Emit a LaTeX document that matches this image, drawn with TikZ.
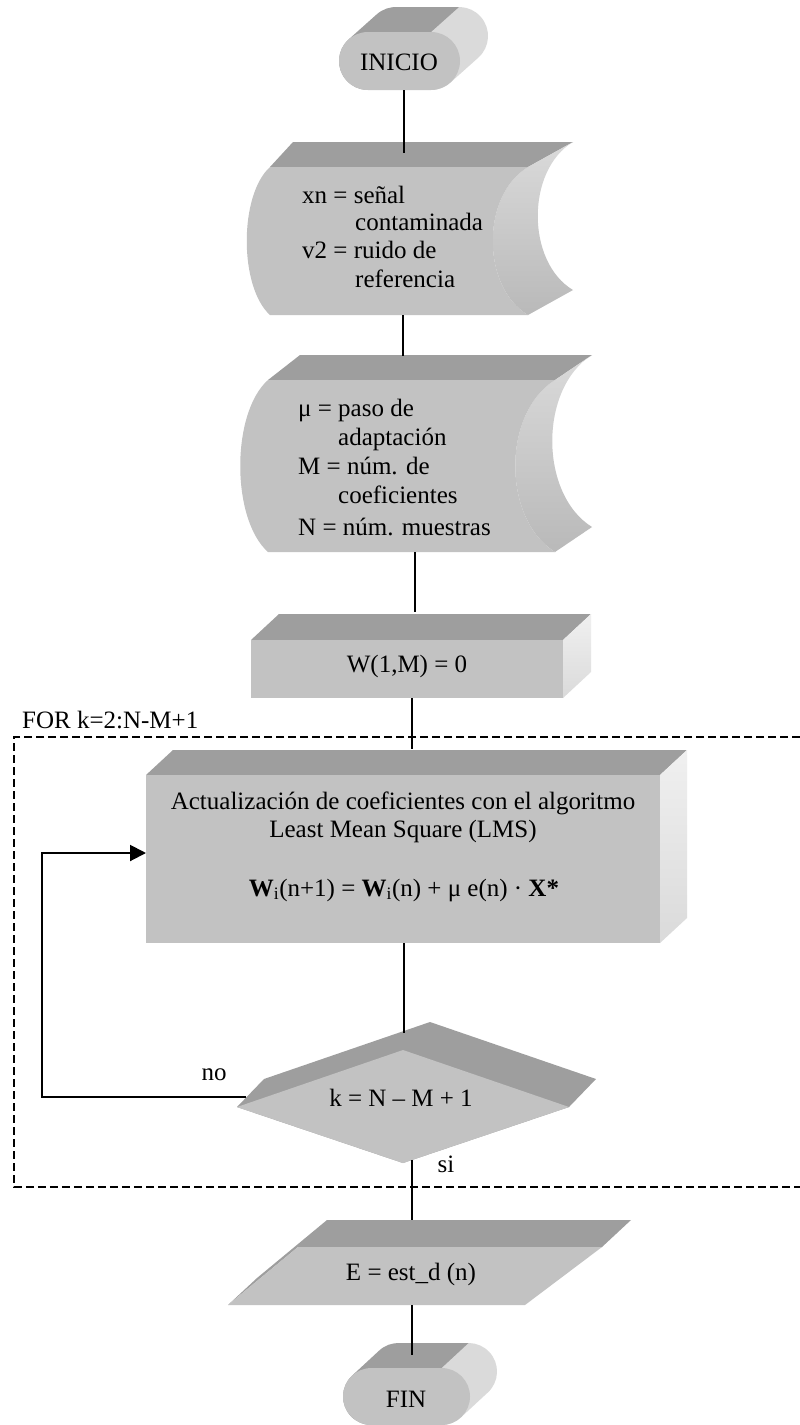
\documentclass[tikz,border=0pt]{standalone}
\usepackage{fontspec}
\setmainfont{Liberation Serif}
\usetikzlibrary{arrows.meta}

\definecolor{facefront}{RGB}{194,194,194}
\definecolor{facetop}{RGB}{158,158,158}
\definecolor{faceside}{RGB}{218,218,218}
\definecolor{faceside2}{RGB}{240,240,240}
\definecolor{facedeep}{RGB}{185,185,185}

\tikzset{
  txt/.style={font=\fontsize{25}{28}\selectfont, inner sep=0pt, anchor=base},
  txtl/.style={txt, anchor=base west},
  flow/.style={line width=1.4pt, black},
  loopline/.style={line width=2pt, black},
  loopframe/.style={dash pattern=on 8pt off 4pt, line width=1.3pt, black},
  innerface/.style={top color=faceside, middle color=faceside2, bottom color=facedeep}
}

\begin{document}
\begin{tikzpicture}[x=1pt,y=-1pt]
\useasboundingbox[fill=white] (0,0) rectangle (800,1425);

% ---------- INICIO (rounded terminal, extruded) ----------
\draw[faceside, line width=58pt, line cap=round] (431,61) -- (459,36);
\draw[facetop, line width=58pt, line cap=round] (368,61) -- (396,36);
\fill[facetop] (368,32) -- (431,32) -- (459,7) -- (396,7) -- cycle;
\fill[facefront, rounded corners=29pt] (339,32) rectangle (460,90);
\node[txt] (inicio) at (399,70) {INICIO};
\coordinate (ini-out) at (404,90);

% ---------- stored data: signals ----------
\fill[facetop] (270,167) -- (528,167) -- (573,142) -- (293,142) -- cycle;
\shade[innerface] (528,167) .. controls (481,195) and (481,287) .. (528,315)
  -- (573,290) .. controls (526,262) and (526,170) .. (573,142) -- cycle;
\fill[facefront] (270,167) -- (528,167) .. controls (481,195) and (481,287) .. (528,315)
  -- (270,315) .. controls (239,287) and (239,195) .. (270,167) -- cycle;
\node[txtl] (d1a) at (302,203) {xn = señal};
\node[txtl] (d1b) at (355,230) {contaminada};
\node[txtl] (d1c) at (302,258) {v2 = ruido de};
\node[txtl] (d1d) at (355,287) {referencia};
\coordinate (d1-in) at (404,153);
\coordinate (d1-out) at (403,315);

% ---------- stored data: parameters ----------
\fill[facetop] (268,380) -- (555,380) -- (592,355) -- (300,355) -- cycle;
\shade[innerface] (555,380) .. controls (502,413) and (502,519) .. (555,552)
  -- (592,527) .. controls (539,494) and (539,388) .. (592,355) -- cycle;
\fill[facefront] (268,380) -- (555,380) .. controls (502,413) and (502,519) .. (555,552)
  -- (268,552) .. controls (231,519) and (231,413) .. (268,380) -- cycle;
\node[txtl] (d2a) at (298,416) {μ = paso de};
\node[txtl] (d2b) at (338,445) {adaptación};
\node[txtl] (d2c) at (298,474) {M = núm. de};
\node[txtl] (d2d) at (338,503) {coeficientes};
\node[txtl] (d2e) at (298,535) {N = núm. muestras};
\coordinate (d2-in) at (403,356);
\coordinate (d2-out) at (415,552);

% ---------- process: initial weights ----------
\fill[facetop] (251,640) -- (563,640) -- (591,614) -- (279,614) -- cycle;
\shade[top color=faceside2, bottom color=faceside] (563,640) -- (591,614) -- (591,672) -- (563,698) -- cycle;
\fill[facefront] (251,640) rectangle (563,698);
\node[txt] (winit) at (407,672) {W(1,M) = 0};
\coordinate (w-in) at (415,612);
\coordinate (w-out) at (412,698);

% ---------- loop frame ----------
\draw[loopframe] (800,737) -- (14,737) -- (14,1187) -- (800,1187);
\node[txtl] (forlbl) at (22,728) {FOR k=2:N-M+1};

% ---------- process: LMS update ----------
\fill[facetop] (146,775) -- (660,775) -- (687,750) -- (173,750) -- cycle;
\shade[top color=faceside2, bottom color=faceside] (660,775) -- (687,750) -- (687,918) -- (660,943) -- cycle;
\fill[facefront] (146,775) rectangle (660,943);
\node[txt] (lms1) at (403,809) {Actualización de coeficientes con el algoritmo};
\node[txt] (lms2) at (403,837) {Least Mean Square (LMS)};
\node[txt] (lms3) at (404,896) {\textbf{W}\textsubscript{i}(n+1) = \textbf{W}\textsubscript{i}(n) + μ e(n) · \textbf{X*}};
\coordinate (lms-in) at (412,749);
\coordinate (lms-out) at (404,943);
\coordinate (lms-left) at (146,853);

% ---------- decision ----------
\fill[facetop] (237,1107) -- (264,1079) -- (430,1022) -- (596,1079) -- (569,1107) -- (403,1163) -- cycle;
\fill[facefront] (237,1107) -- (403,1050) -- (569,1107) -- (403,1163) -- cycle;
\node[txt] (cond) at (401,1106) {k = N – M + 1};
\coordinate (cond-in) at (404,1033);
\coordinate (cond-no) at (246,1097);
\coordinate (cond-out) at (412,1160);
\coordinate (loop-corner) at (42,1097);
\node[txt] (nolbl) at (214,1080) {no};
\node[txt] (silbl) at (446,1172) {si};

% ---------- output ----------
\fill[facetop] (228,1305) -- (257,1278) -- (327,1220) -- (631,1220) -- (602,1247) -- (298,1247) -- cycle;
\fill[facefront] (298,1247) -- (602,1247) -- (525,1305) -- (228,1305) -- cycle;
\node[txt] (outp) at (411,1280) {E = est\_d (n)};
\coordinate (out-in) at (412,1220);
\coordinate (out-out) at (412,1305);

% ---------- FIN ----------
\draw[faceside, line width=57pt, line cap=round] (441.5,1396.5) -- (468.5,1371.5);
\draw[facetop, line width=57pt, line cap=round] (371.5,1396.5) -- (398.5,1371.5);
\fill[facetop] (371.5,1368) -- (441.5,1368) -- (468.5,1343) -- (398.5,1343) -- cycle;
\fill[facefront, rounded corners=28.5pt] (343,1368) rectangle (470,1425);
\node[txt] (fin) at (406,1407) {FIN};
\coordinate (fin-in) at (412,1355);

% ---------- connectors ----------
\draw[flow] (ini-out) -- (d1-in);
\draw[flow] (d1-out) -- (d2-in);
\draw[flow] (d2-out) -- (w-in);
\draw[flow] (w-out) -- (lms-in);
\draw[flow] (lms-out) -- (cond-in);
\draw[flow] (cond-out) -- (out-in);
\draw[flow] (out-out) -- (fin-in);
\draw[loopline, -{Triangle[length=16pt,width=16pt]}] (cond-no) -- (loop-corner) |- (lms-left);
\end{tikzpicture}
\end{document}
